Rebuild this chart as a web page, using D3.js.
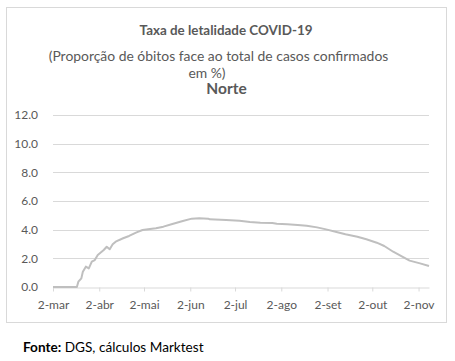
<!DOCTYPE html>
<html>
<head>
<meta charset="utf-8">
<script src="https://cdn.jsdelivr.net/npm/d3@7"></script>
<style>
  body { margin: 0; background: #fff; }
  text { font-family: Lato, "Open Sans", sans-serif; }
</style>
</head>
<body>
<svg id="chart" width="455" height="361"></svg>
<script>
// taxa de letalidade, Norte
var dates = ["2020-03-02","2020-03-18","2020-03-19","2020-03-21","2020-03-22","2020-03-24","2020-03-26",
  "2020-03-28","2020-03-30","2020-04-01","2020-04-05","2020-04-07","2020-04-09","2020-04-11","2020-04-13",
  "2020-04-18","2020-04-22","2020-04-27","2020-05-01","2020-05-06","2020-05-10","2020-05-15","2020-05-21",
  "2020-05-28","2020-06-03","2020-06-08","2020-06-14","2020-06-15","2020-06-26","2020-07-05","2020-07-12",
  "2020-07-19","2020-07-27","2020-07-30","2020-08-06","2020-08-13","2020-08-19","2020-08-26","2020-09-01",
  "2020-09-08","2020-09-14","2020-09-22","2020-09-28","2020-10-05","2020-10-10","2020-10-16","2020-10-23",
  "2020-10-27","2020-11-03","2020-11-09"];
var values = [0, 0, 0.37, 0.6, 1.07, 1.42, 1.3,
  1.77, 1.88, 2.23, 2.58, 2.81, 2.63, 2.98, 3.16,
  3.4, 3.56, 3.81, 3.98, 4.05, 4.1, 4.21, 4.4,
  4.6, 4.77, 4.79, 4.77, 4.72, 4.68, 4.62, 4.53,
  4.49, 4.47, 4.42, 4.37, 4.33, 4.28, 4.16, 4.02,
  3.84, 3.68, 3.51, 3.33, 3.09, 2.86, 2.46, 2.07,
  1.84, 1.65, 1.47];
var yTicks = [0, 2, 4, 6, 8, 10, 12];
var xTickDates = ["2020-03-02","2020-04-02","2020-05-02","2020-06-02","2020-07-02",
  "2020-08-02","2020-09-02","2020-10-02","2020-11-02"];
var monthNames = ["jan","fev","mar","abr","mai","jun","jul","ago","set","out","nov","dez"];

var parse = d3.timeParse("%Y-%m-%d");
var data = dates.map(function (d, i) { return { date: parse(d), value: values[i] }; });

var svg = d3.select("#chart");
var margin = { left: 53, right: 26, top: 115, bottom: 74 };
var width = 455, height = 361;

var x = d3.scaleTime()
  .domain([parse("2020-03-02"), parse("2020-11-09")])
  .range([margin.left, width - margin.right]);
var y = d3.scaleLinear()
  .domain([0, 12])
  .range([height - margin.bottom, margin.top]);

// moldura
svg.append("rect")
  .attr("x", 6.5).attr("y", 7.5)
  .attr("width", 440).attr("height", 315)
  .attr("fill", "#fff").attr("stroke", "#d9d9d9");

// titulos
var titles = svg.append("g").attr("fill", "#595959");
titles.append("text").attr("x", 226).attr("y", 35)
  .attr("text-anchor", "middle").attr("font-size", 13.4).attr("font-weight", "bold")
  .text("Taxa de letalidade COVID-19");
titles.append("text").attr("x", 218.5).attr("y", 61)
  .attr("text-anchor", "middle").attr("font-size", 13.9)
  .text("(Proporção de óbitos face ao total de casos confirmados");
titles.append("text").attr("x", 207).attr("y", 78)
  .attr("text-anchor", "middle").attr("font-size", 13.9)
  .text("em %)");
titles.append("text").attr("x", 226.5).attr("y", 93.5)
  .attr("text-anchor", "middle").attr("font-size", 15.5).attr("font-weight", "bold")
  .text("Norte");

// grelha
svg.append("g")
  .selectAll("line")
  .data(yTicks.filter(function (d) { return d > 0; }))
  .enter().append("line")
  .attr("x1", margin.left).attr("x2", width - margin.right)
  .attr("y1", function (d) { return Math.round(y(d)) + 0.5; })
  .attr("y2", function (d) { return Math.round(y(d)) + 0.5; })
  .attr("stroke", "#d9d9d9");

// eixo y
var yAxis = svg.append("g")
  .attr("transform", "translate(" + (margin.left - 12) + ",0)")
  .call(d3.axisLeft(y).tickValues(yTicks).tickFormat(d3.format(".1f")).tickSize(0));
yAxis.select(".domain").remove();
yAxis.selectAll("text").attr("fill", "#595959").attr("font-size", 12)
  .style("font-family", "Lato, sans-serif");

// eixo x
var xAxis = svg.append("g")
  .attr("transform", "translate(0," + (Math.round(y(0)) + 0.5) + ")")
  .call(d3.axisBottom(x)
    .tickValues(xTickDates.map(parse))
    .tickFormat(function (d) { return d.getDate() + "-" + monthNames[d.getMonth()]; })
    .tickSize(4).tickSizeOuter(0).tickPadding(9));
xAxis.select(".domain").attr("stroke", "#d9d9d9");
xAxis.selectAll(".tick line").attr("stroke", "#d9d9d9");
xAxis.selectAll("text").attr("fill", "#595959").attr("font-size", 12)
  .style("font-family", "Lato, sans-serif");

// linha
var line = d3.line()
  .x(function (d) { return x(d.date); })
  .y(function (d) { return y(d.value); });
svg.append("path")
  .datum(data)
  .attr("d", line)
  .attr("fill", "none")
  .attr("stroke", "#bfbfbf")
  .attr("stroke-width", 2)
  .attr("stroke-linejoin", "round");

// fonte
var src = svg.append("text").attr("x", 23).attr("y", 352).attr("font-size", 13.6).attr("fill", "#000");
src.append("tspan").attr("font-weight", "bold").text("Fonte:");
src.append("tspan").text(" DGS, cálculos Marktest");
</script>
</body>
</html>
